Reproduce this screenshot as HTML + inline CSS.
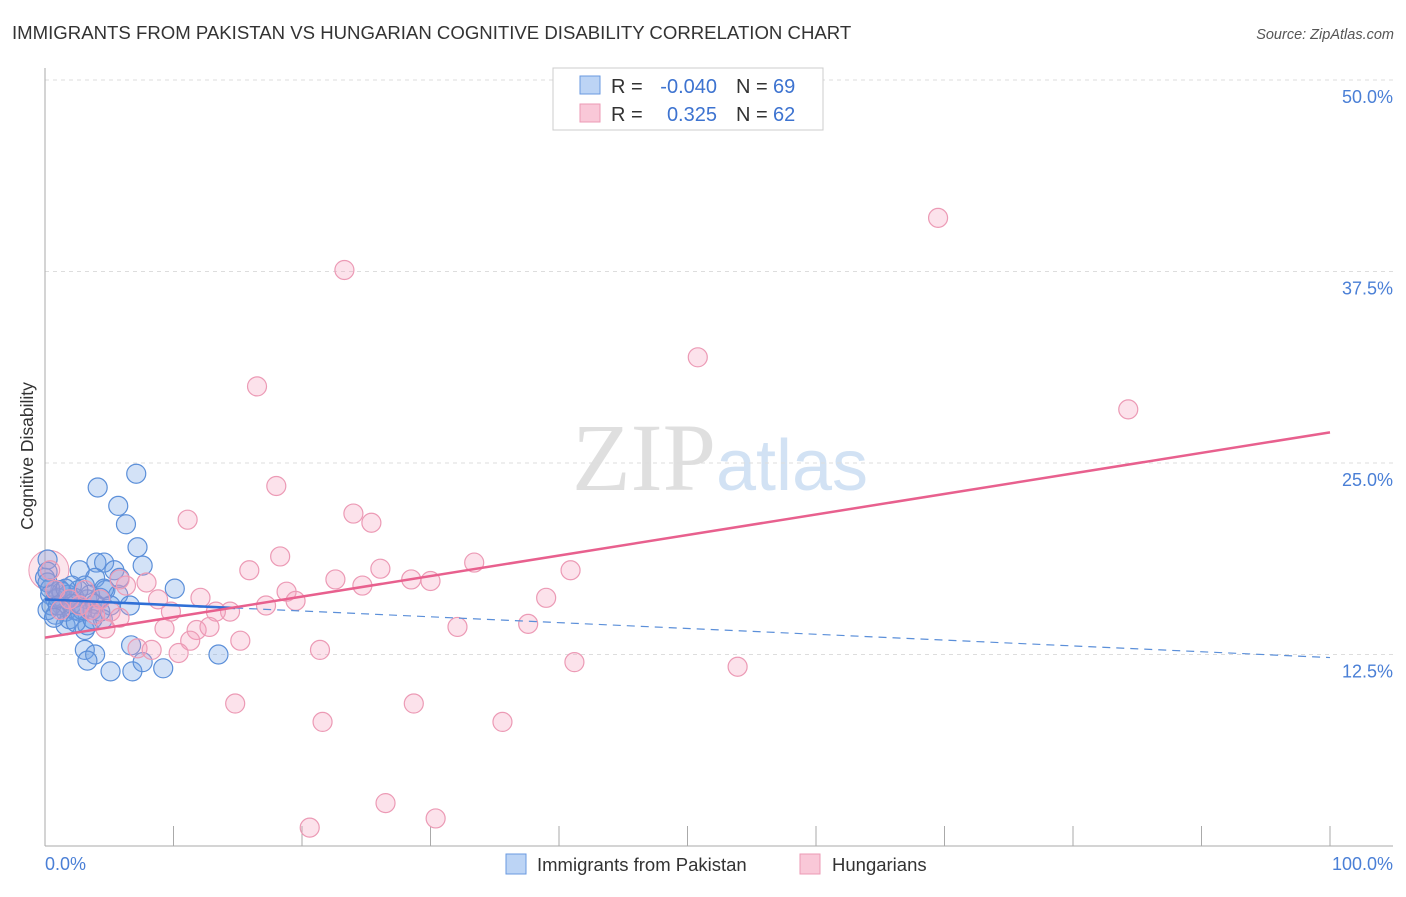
<!DOCTYPE html>
<html><head><meta charset="utf-8"><style>
body{margin:0;background:#fff;font-family:"Liberation Sans",sans-serif}
svg text{font-family:"Liberation Sans",sans-serif}
</style></head><body>
<svg id="chart" width="1406" height="892" xmlns="http://www.w3.org/2000/svg">
<text x="12" y="39" font-size="18.6" fill="#333">IMMIGRANTS FROM PAKISTAN VS HUNGARIAN COGNITIVE DISABILITY CORRELATION CHART</text>
<text x="1394" y="39" font-size="14.5" fill="#555" text-anchor="end" font-style="italic">Source: ZipAtlas.com</text>
<text transform="translate(33,456) rotate(-90)" font-size="17.5" fill="#333" text-anchor="middle">Cognitive Disability</text>
<text x="720" y="490" font-size="96" text-anchor="middle" fill="#ddd" font-family="Liberation Serif" opacity="0.8"><tspan font-family="Liberation Serif" fill="#d8d8d8">ZIP</tspan><tspan font-family="Liberation Sans" fill="#c8dcf2" font-size="72">atlas</tspan></text>
<g id="grid"></g><g id="axes"></g><g id="pts"></g><g id="lines"></g>
<g>
<rect x="553" y="68" width="270" height="62" fill="#fff" stroke="#ccc"/>
<rect x="580" y="76" width="20" height="18" fill="#bcd4f5" stroke="#6a9ae0"/>
<rect x="580" y="104" width="20" height="18" fill="#f9c8d8" stroke="#ec9ab5"/>
<text x="611" y="93" font-size="20" fill="#333">R =</text>
<text x="717" y="93" font-size="20" fill="#3d73d0" text-anchor="end">-0.040</text>
<text x="736" y="93" font-size="20" fill="#333">N =</text>
<text x="773" y="93" font-size="20" fill="#3d73d0">69</text>
<text x="611" y="121" font-size="20" fill="#333">R =</text>
<text x="717" y="121" font-size="20" fill="#3d73d0" text-anchor="end">0.325</text>
<text x="736" y="121" font-size="20" fill="#333">N =</text>
<text x="773" y="121" font-size="20" fill="#3d73d0">62</text>
</g>
<g>
<rect x="506" y="854" width="20" height="20" fill="#bcd4f5" stroke="#6a9ae0"/>
<text x="537" y="871" font-size="18.5" fill="#333">Immigrants from Pakistan</text>
<rect x="800" y="854" width="20" height="20" fill="#f9c8d8" stroke="#ec9ab5"/>
<text x="832" y="871" font-size="18.5" fill="#333">Hungarians</text>
</g>
</svg>
<script>
const blueX=[7.1,4.1,5.7,6.3,7.2,7.6,4.0,4.6,5.4,10.1,2.7,3.9,4.7,5.7,2.1,3.1,1.2,0.4,0.2,0.2,0.2,0.8,1.3,1.9,2.3,1.6,2.7,3.3,3.7,4.3,5.1,0.8,1.6,3.1,3.3,6.6,4.5,2.7,1.9,3.1,3.9,3.3,5.1,6.8,7.6,9.2,6.7,13.5,0.2,0.5,1.0,1.8,2.3,3.5,2.6,1.3,0.4,0.0,1.0,2.1,2.9,3.9,4.3,1.6,4.6,5.8,0.7,2.4,3.7];
const blueY=[24.3,23.4,22.2,21.0,19.5,18.3,18.5,18.5,18.0,16.8,18.0,17.5,16.7,16.4,17.0,17.0,16.7,16.4,18.7,17.9,17.2,16.1,15.7,16.1,15.4,15.3,15.7,16.1,15.4,16.2,15.7,15.1,14.4,14.1,14.4,15.7,14.8,15.3,14.8,12.8,12.5,12.1,11.4,11.4,12.0,11.6,13.1,12.5,15.4,15.7,16.2,16.4,16.2,16.4,16.7,16.6,16.8,17.5,15.7,15.8,15.4,15.8,15.3,16.8,16.8,17.5,14.9,14.6,14.8];
const pinkX=[69.5,23.3,50.8,16.5,84.3,18.0,11.1,24.0,25.4,18.3,33.4,40.9,15.9,26.1,22.6,24.7,28.5,30.0,6.3,7.9,18.8,12.1,19.5,39.0,17.2,8.8,9.8,14.4,13.3,5.1,5.8,4.7,9.3,11.8,12.8,32.1,37.6,11.3,15.2,7.2,8.3,10.4,21.4,41.2,53.9,14.8,28.7,21.6,35.6,26.5,20.6,30.4,0.4,0.8,1.9,2.7,3.5,4.3,1.2,3.9,5.8,3.1];
const pinkY=[41.0,37.6,31.9,30.0,28.5,23.5,21.3,21.7,21.1,18.9,18.5,18.0,18.0,18.1,17.4,17.0,17.4,17.3,17.0,17.2,16.6,16.2,16.0,16.2,15.7,16.1,15.3,15.3,15.3,15.3,14.9,14.2,14.2,14.1,14.3,14.3,14.5,13.4,13.4,12.9,12.8,12.6,12.8,12.0,11.7,9.3,9.3,8.1,8.1,2.8,1.2,1.8,18.0,16.7,16.1,15.7,15.4,16.1,15.4,15.1,17.4,16.7];
const yTicks=[12.5,25.0,37.5,50.0];
const xTickLabels=["0.0%","100.0%"];
const blueTrend=[16.1,12.3], pinkTrend=[13.6,27.0], blueSolidEnd=14.8;
const NS="http://www.w3.org/2000/svg";
const sx=v=>45+v*12.85, sy=v=>846-v*15.32;
function mk(tag,attrs,parent){const e=document.createElementNS(NS,tag);for(const k in attrs)e.setAttribute(k,attrs[k]);parent.appendChild(e);return e;}
const grid=document.getElementById('grid'),axes=document.getElementById('axes'),pts=document.getElementById('pts'),lines=document.getElementById('lines');
yTicks.forEach(t=>{
 const l=mk('line',{x1:45,x2:1393,y1:sy(t),y2:sy(t),stroke:'#ddd','stroke-dasharray':'4,4'},grid);
 
 
 const tx=mk('text',{x:1393,y:sy(t)+23,'font-size':18,fill:'#4a7fd6','text-anchor':'end'},grid);
 tx.textContent=t.toFixed(1)+'%';
 
 
});
const al=mk('line',{x1:45,x2:45,y1:68,y2:846,stroke:'#aaa'},axes);


const xl=mk('line',{x1:45,x2:1393,y1:846,y2:846,stroke:'#aaa'},axes);


for(let i=1;i<=10;i++){const tk=mk('line',{x1:sx(i*10),x2:sx(i*10),y1:826,y2:846,stroke:'#aaa'},axes);
 
 }
[[0,'start',45],[100,'end',1393]].forEach((a,i)=>{const t=mk('text',{x:a[2],y:870,'font-size':18,fill:'#4a7fd6','text-anchor':a[1]},axes);t.textContent=xTickLabels[i];
 
 });
const big=mk('circle',{cx:sx(0.3),cy:sy(18),r:20,fill:'rgba(240,150,180,0.25)',stroke:'#ec9ab5','stroke-width':1},pts);


blueX.forEach((x,i)=>{const c=mk('circle',{cx:sx(x),cy:sy(blueY[i]),r:9.5,fill:'rgba(110,160,230,0.3)',stroke:'#5b8fd9','stroke-width':1.2},pts);
 
 });
pinkX.forEach((x,i)=>{const c=mk('circle',{cx:sx(x),cy:sy(pinkY[i]),r:9.5,fill:'rgba(245,160,190,0.3)',stroke:'#ec9ab5','stroke-width':1.2},pts);
 
 });
const by=x=>blueTrend[0]+(blueTrend[1]-blueTrend[0])*x/100;
const l1=mk('line',{x1:sx(0),y1:sy(by(0)),x2:sx(blueSolidEnd),y2:sy(by(blueSolidEnd)),stroke:'#2f6fd6','stroke-width':2.5},lines);


const l2=mk('line',{x1:sx(blueSolidEnd),y1:sy(by(blueSolidEnd)),x2:sx(100),y2:sy(by(100)),stroke:'#5b8fd9','stroke-width':1.2,'stroke-dasharray':'8,6'},lines);


const l3=mk('line',{x1:sx(0),y1:sy(pinkTrend[0]),x2:sx(100),y2:sy(pinkTrend[1]),stroke:'#e8608e','stroke-width':2.5},lines);


</script>
</body></html>
